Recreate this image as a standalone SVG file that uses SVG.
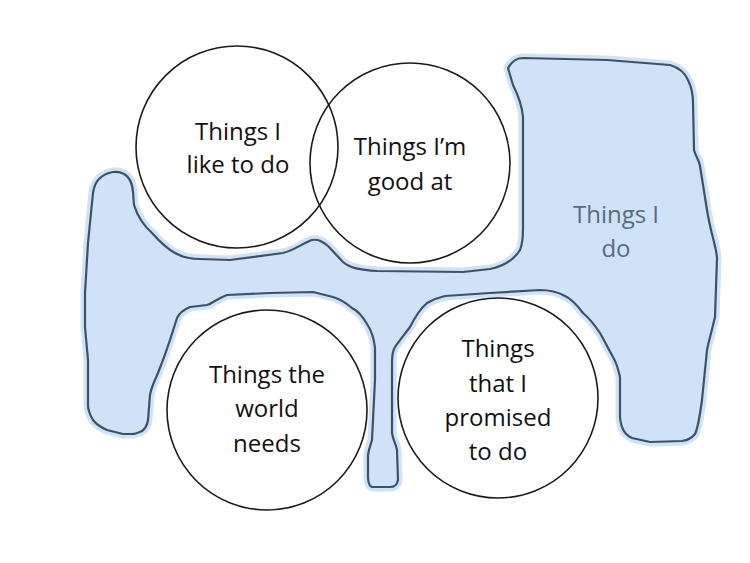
<svg xmlns="http://www.w3.org/2000/svg" width="750" height="563" viewBox="0 0 750 563">
<defs>
<style>
.blobfill{fill:#cfe2f8;stroke:#cfe2f8;stroke-width:9;stroke-linejoin:round}
.blobline{fill:none;stroke:#3e5166;stroke-width:2.2;stroke-linejoin:round;stroke-linecap:round}
.c{fill:none;stroke:#1a1a1a;stroke-width:1.6}
.t{font-family:"Open Sans","Liberation Sans",sans-serif;font-size:24px;fill:#111;text-anchor:middle}
.tb{fill:#5a6b80}
</style>
<path id="blobShape" d="M113,172 C125,171 132,178 133,192 L134,205 C138,218 145,227 153,234 C160,242 166,248 175,253 C182,257 190,259 200,259 L230,260 L283,253 C295,250 303,243 312,240 C318,239 322,241 328,246 L343,262 C350,268 360,270 377,271 L463,272 L490,269 C505,266 515,258 520,250 C523,243 523,235 523,228 L523,117 C522,105 518,95 513,85 L508,68 C512,61 518,58 523,58 L607,60 L670,65 C680,68 685,73 688,80 C692,88 693,95 693,103 L694,150 C696,157 699,160 700,166 L707,210 C711,235 716,245 717,258 L715,317 C712,330 709,340 707,350 L702,400 C700,415 698,428 695,434 C692,438 688,440 682,441 L650,442 L632,438 C624,434 621,428 620,417 L620,377 C618,368 616,362 613,357 C608,348 604,340 600,333 C594,324 589,318 583,313 C577,305 572,299 565,296 C556,291 548,290 540,290 L490,293 L445,296 C436,298 432,300 427,303 C420,309 415,317 410,327 C404,335 399,341 395,347 C392,352 392,356 392,362 L392,433 C393,440 396,444 397,450 L398,480 C397,485 395,487 390,487 L372,487 C369,486 368,482 368,476 L368,455 C369,448 371,444 372,440 L375,380 L375,348 C374,338 371,330 367,324 C363,317 358,311 352,308 C345,302 340,299 333,297 L313,292 L270,293 L227,295 C218,298 213,303 207,305 L190,307 C183,310 179,313 177,318 L170,340 C166,352 162,363 158,373 C154,382 151,388 150,395 L148,420 C147,426 145,429 142,431 C138,433 136,434 132,434 L123,434 L107,430 C100,427 96,424 93,420 C90,415 88,411 88,405 L88,360 L85,327 L85,293 L88,243 L93,193 C94,186 96,182 99,179 C103,175 107,173 113,172 Z"/>
</defs>
<g id="blob">
<use href="#blobShape" class="blobfill"/>
<use href="#blobShape" class="blobline"/>
<text class="t tb" x="616" y="223">Things I</text>
<text class="t tb" x="616" y="257">do</text>
</g>
<g id="connectors"></g>
<g id="node-like">
<circle class="c" cx="237" cy="147" r="101"/>
<text class="t" x="238" y="140">Things I</text>
<text class="t" x="238" y="173">like to do</text>
</g>
<g id="node-good">
<circle class="c" cx="410" cy="163" r="100"/>
<text class="t" x="410" y="155">Things I’m</text>
<text class="t" x="410" y="190">good at</text>
</g>
<g id="node-world">
<circle class="c" cx="267" cy="410" r="100"/>
<text class="t" x="267" y="383">Things the</text>
<text class="t" x="267" y="417">world</text>
<text class="t" x="267" y="452">needs</text>
</g>
<g id="node-promised">
<circle class="c" cx="498" cy="398" r="100"/>
<text class="t" x="498" y="357">Things</text>
<text class="t" x="498" y="392">that I</text>
<text class="t" x="498" y="426">promised</text>
<text class="t" x="498" y="460">to do</text>
</g>
</svg>
